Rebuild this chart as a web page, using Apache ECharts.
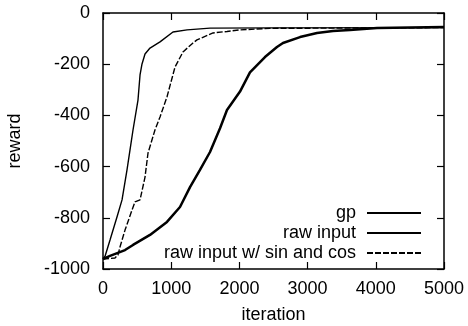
<!DOCTYPE html>
<html>
<head>
<meta charset="utf-8">
<script src="https://cdn.jsdelivr.net/npm/echarts@6/dist/echarts.min.js"></script>
<style>
html, body { margin: 0; padding: 0; background: #fff; }
#chart { width: 468px; height: 326px; }
</style>
</head>
<body>
<div id="chart"></div>
<script>
// values
var seriesNames = ['gp', 'raw input', 'raw input w/ sin and cos'];

var gpIter   = [0, 30, 103, 205, 279, 352, 396, 440, 513, 543, 572, 616, 689, 836, 1026, 1232, 1569, 2500, 5000];
var gpReward = [-961, -950, -887, -797, -730, -613, -535, -457, -340, -242, -199, -160, -137, -113, -74, -66, -59, -58, -57];

var rawIter   = [0, 103, 323, 440, 689, 938, 1129, 1276, 1422, 1569, 1716, 1818, 2009, 2155, 2375, 2551, 2639, 2889, 3138, 3372, 3622, 4018, 5000];
var rawReward = [-961, -949, -926, -906, -867, -816, -758, -680, -613, -543, -450, -379, -307, -232, -172, -133, -117, -94, -78, -70, -66, -59, -55];

var sinIter   = [0, 176, 220, 249, 323, 425, 469, 543, 616, 660, 762, 836, 938, 1056, 1173, 1320, 1378, 1613, 1818, 2009, 2449, 5000];
var sinReward = [-961, -957, -945, -914, -848, -770, -738, -730, -641, -547, -457, -406, -328, -211, -152, -117, -105, -78, -72, -66, -60, -57];

var xTicks = { min: 0, max: 5000, interval: 1000 };
var yTicks = { min: -1000, max: 0, interval: 200 };

function pairs(xs, ys) {
  var out = [];
  for (var i = 0; i < xs.length; i++) out.push([xs[i], ys[i]]);
  return out;
}

var font = 'Liberation Sans, Arial, Helvetica, sans-serif';

function axis(type, pos, showLabels, extra) {
  var t = type === 'x' ? xTicks : yTicks;
  var a = {
    type: 'value',
    position: pos,
    min: t.min,
    max: t.max,
    interval: t.interval,
    axisLine: { show: true, onZero: false, lineStyle: { color: '#000', width: 1.5 } },
    axisTick: { show: true, inside: true, length: 7, lineStyle: { color: '#000', width: 1.2 } },
    splitLine: { show: false },
    axisLabel: { show: showLabels }
  };
  for (var k in extra) a[k] = extra[k];
  return a;
}

function plain(v) { return String(v); }

var chart = echarts.init(document.getElementById('chart'));
chart.setOption({
  animation: false,
  backgroundColor: '#fff',
  grid: { left: 103, right: 24, top: 13, bottom: 57, containLabel: false, outerBoundsMode: 'none' },
  legend: {
    orient: 'vertical',
    right: 46,
    top: 204,
    align: 'right',
    padding: 0,
    itemGap: 2,
    itemWidth: 54,
    itemHeight: 17,
    data: seriesNames,
    itemStyle: { opacity: 0 },
    textStyle: { color: '#000', fontSize: 18, fontFamily: font, padding: [0, 6, 0, 0] }
  },
  xAxis: [
    axis('x', 'bottom', true, {
      name: 'iteration', nameLocation: 'middle', nameGap: 37,
      nameTextStyle: { color: '#000', fontSize: 18, fontFamily: font },
      axisLabel: { show: true, color: '#000', fontSize: 18, fontFamily: font, margin: 11, formatter: plain }
    }),
    axis('x', 'top', false, {})
  ],
  yAxis: [
    axis('y', 'left', true, {
      name: 'reward', nameLocation: 'middle', nameGap: 79,
      nameTextStyle: { color: '#000', fontSize: 18, fontFamily: font },
      axisLabel: { show: true, color: '#000', fontSize: 18, fontFamily: font, margin: 13, formatter: plain }
    }),
    axis('y', 'right', false, {})
  ],
  series: [
    {
      name: seriesNames[0], type: 'line', symbol: 'none',
      xAxisIndex: 0, yAxisIndex: 0,
      lineStyle: { color: '#000', width: 1.4 },
      itemStyle: { color: '#000' },
      data: pairs(gpIter, gpReward)
    },
    {
      name: seriesNames[1], type: 'line', symbol: 'none',
      xAxisIndex: 0, yAxisIndex: 0,
      lineStyle: { color: '#000', width: 2.5 },
      itemStyle: { color: '#000' },
      data: pairs(rawIter, rawReward)
    },
    {
      name: seriesNames[2], type: 'line', symbol: 'none',
      xAxisIndex: 0, yAxisIndex: 0,
      lineStyle: { color: '#000', width: 1.4, type: [6, 2] },
      itemStyle: { color: '#000' },
      data: pairs(sinIter, sinReward)
    }
  ]
});
</script>
</body>
</html>
